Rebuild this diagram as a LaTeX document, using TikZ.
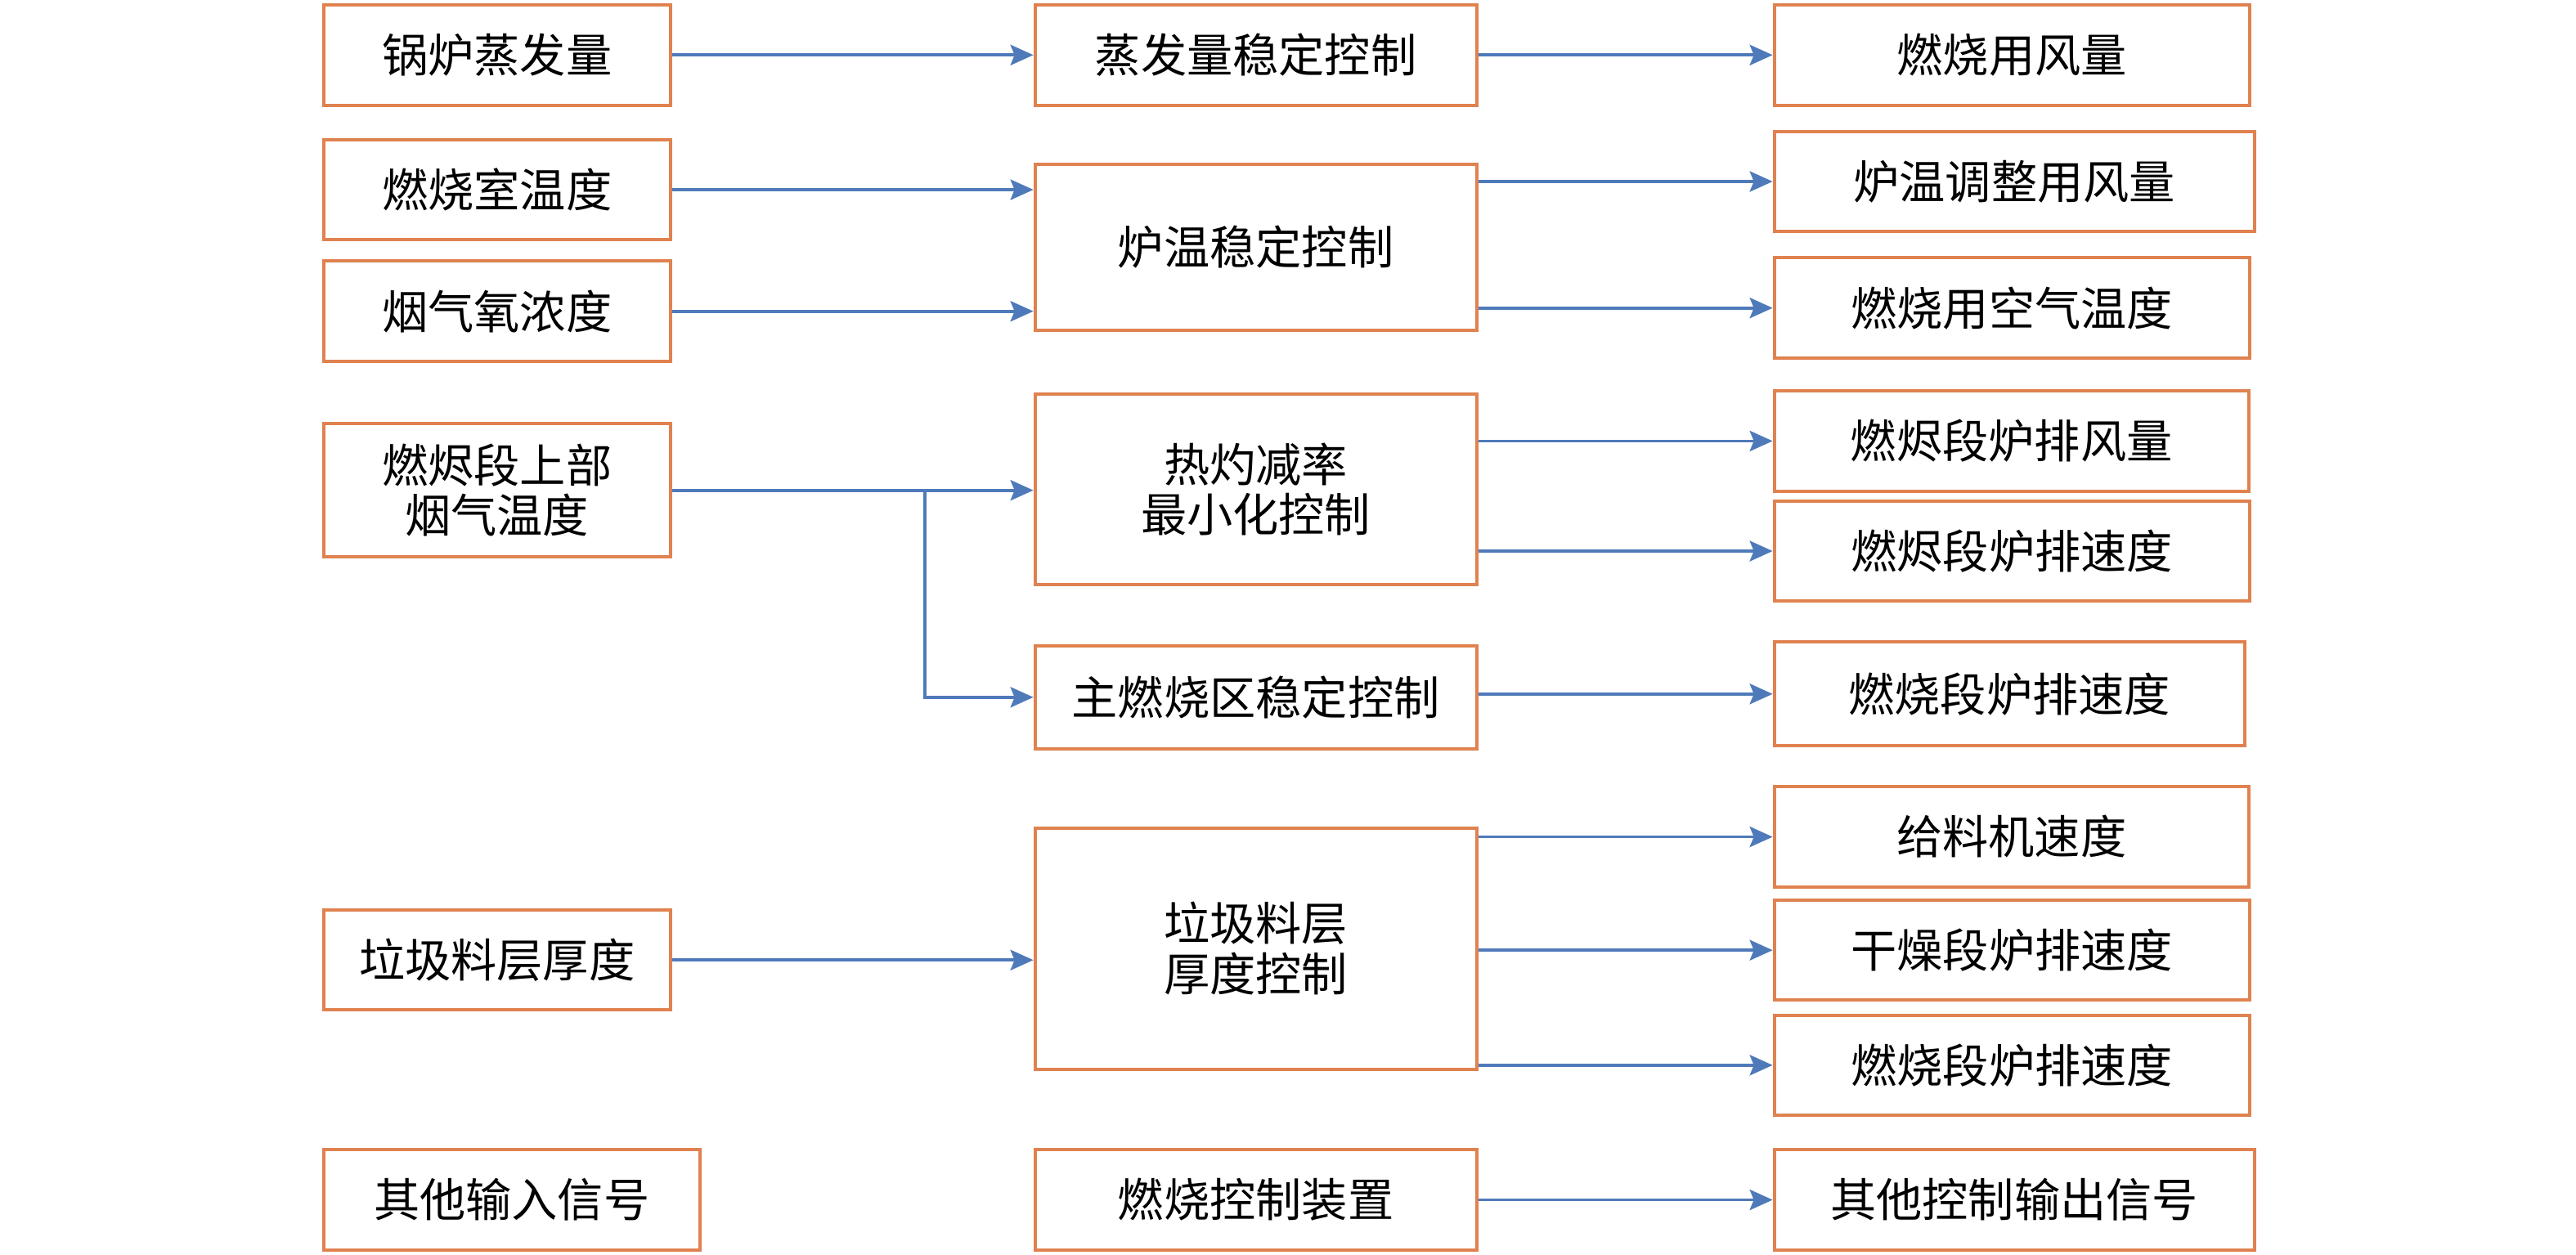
\documentclass[tikz,border=0pt]{standalone}
\usepackage{fontspec}
\setmainfont{Noto Sans CJK SC}
\usepackage{tikz}
\usetikzlibrary{arrows.meta}
\definecolor{boxorange}{RGB}{224,130,80}
\definecolor{arrblue}{RGB}{79,122,186}

\begin{document}
\begin{tikzpicture}[x=0.2009mm, y=-0.2009mm,
  box/.style = {shape=rectangle, draw=boxorange, line width=0.4mm,
    align=center, anchor=west, inner sep=0pt,
    minimum height=12.25mm, font=\fontsize{16pt}{17.5pt}\selectfont},
  arr/.style = {draw=arrblue, line width=0.38mm,
    -{Stealth[length=2.8mm, width=2.5mm, inset=0.5mm]}}]
  \useasboundingbox (0,0) rectangle (1568,764);
  % inputs
  \node[box, minimum width=42.4mm] (in1) at (196,33.5) {锅炉蒸发量};
  \node[box, minimum width=42.4mm] (in2) at (196,115.5) {燃烧室温度};
  \node[box, minimum width=42.4mm] (in3) at (196,189.5) {烟气氧浓度};
  \node[box, minimum width=42.4mm, minimum height=16.3mm] (in4) at (196,298.5) {燃烬段上部\\烟气温度};
  \node[box, minimum width=42.4mm] (in5) at (196,584.5) {垃圾料层厚度};
  \node[box, minimum width=46.0mm] (in6) at (196,730.5) {其他输入信号};
  % controllers
  \node[box, minimum width=54.0mm] (c1) at (629,33.5) {蒸发量稳定控制};
  \node[box, minimum width=54.0mm, minimum height=20.3mm] (c2) at (629,150.5) {炉温稳定控制};
  \node[box, minimum width=54.0mm, minimum height=23.3mm] (c3) at (629,298) {热灼减率\\最小化控制};
  \node[box, minimum width=54.0mm, minimum height=12.66mm] (c4) at (629,424.5) {主燃烧区稳定控制};
  \node[box, minimum width=54.0mm, minimum height=29.5mm] (c5) at (629,577.5) {垃圾料层\\厚度控制};
  \node[box, minimum width=54.0mm] (c6) at (629,730.5) {燃烧控制装置};
  % outputs
  \node[box, minimum width=58.1mm] (o1) at (1079,33.5) {燃烧用风量};
  \node[box, minimum width=58.7mm] (o2) at (1079,110.5) {炉温调整用风量};
  \node[box, minimum width=58.1mm] (o3) at (1079,187.5) {燃烧用空气温度};
  \node[box, minimum width=58.0mm] (o4) at (1079,268.5) {燃烬段炉排风量};
  \node[box, minimum width=58.1mm] (o5) at (1079,335.5) {燃烬段炉排速度};
  \node[box, minimum width=57.5mm, minimum height=12.66mm] (o6) at (1079,422.5) {燃烧段炉排速度};
  \node[box, minimum width=58.0mm] (o7) at (1079,509.5) {给料机速度};
  \node[box, minimum width=58.1mm] (o8) at (1079,578.5) {干燥段炉排速度};
  \node[box, minimum width=58.1mm] (o9) at (1079,648.5) {燃烧段炉排速度};
  \node[box, minimum width=58.7mm] (o10) at (1079,730.5) {其他控制输出信号};
  \coordinate (br) at (563,298.5);
  % input arrows
  \draw[arr] (in1) -- (c1);
  \draw[arr] (in2.east) -- (in2.east -| c2.west);
  \draw[arr] (in3.east) -- (in3.east -| c2.west);
  \draw[arr] (in4.east) -- (in4.east -| c3.west);
  \draw[arr] (br) |- (c4.west);
  \draw[arr] (in5.east) -- (in5.east -| c5.west);
  % output arrows
  \draw[arr] (c1) -- (o1);
  \draw[arr] (c2.east |- o2.west) -- (o2.west);
  \draw[arr] (c2.east |- o3.west) -- (o3.west);
  \draw[arr] (c3.east |- o4.west) -- (o4.west);
  \draw[arr] (c3.east |- o5.west) -- (o5.west);
  \draw[arr] (c4.east |- o6.west) -- (o6.west);
  \draw[arr] (c5.east |- o7.west) -- (o7.west);
  \draw[arr] (c5.east |- o8.west) -- (o8.west);
  \draw[arr] (c5.east |- o9.west) -- (o9.west);
  \draw[arr] (c6) -- (o10);
\end{tikzpicture}
\end{document}
